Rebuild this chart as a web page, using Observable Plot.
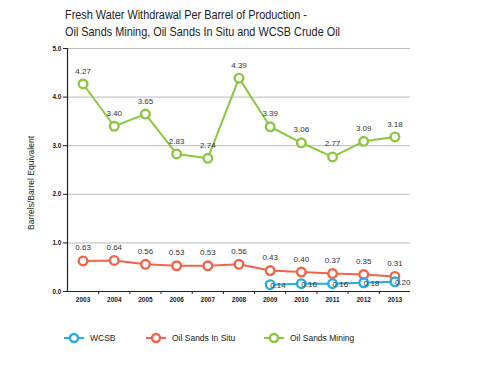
<!DOCTYPE html>
<html><head><meta charset="utf-8">
<script src="https://cdn.jsdelivr.net/npm/d3@7"></script>
<script src="https://cdn.jsdelivr.net/npm/@observablehq/plot@0.6"></script>
<style>
body{margin:0;background:#fff;width:486px;height:389px;overflow:hidden;font-family:"Liberation Sans",Arial,sans-serif;}
#title{position:absolute;left:65px;top:7px;font-family:"Liberation Sans",Arial,sans-serif;font-size:12.5px;line-height:17px;color:#222;transform:scaleX(0.87);transform-origin:0 0;white-space:nowrap;}
#chart{position:absolute;left:0;top:40px;}
#legend{position:absolute;top:330px;left:0;width:486px;height:16px;font-size:8.5px;color:#222;}
.item{position:absolute;top:0;display:flex;align-items:center;height:16px;}
.item svg{margin-right:6px;}
</style></head><body>
<div id="title">Fresh Water Withdrawal Per Barrel of Production -<br>Oil Sands Mining, Oil Sands In Situ and WCSB Crude Oil</div>
<div id="chart"></div>
<div id="legend"></div>
<script>
const years = [2003,2004,2005,2006,2007,2008,2009,2010,2011,2012,2013];
const mining = [4.27,3.40,3.65,2.83,2.74,4.39,3.39,3.06,2.77,3.09,3.18];
const inSitu = [0.63,0.64,0.56,0.53,0.53,0.56,0.43,0.40,0.37,0.35,0.31];
const wcsbYears = [2009,2010,2011,2012,2013];
const wcsb = [0.14,0.16,0.16,0.18,0.20];
const seriesNames = ["WCSB","Oil Sands In Situ","Oil Sands Mining"];
const colors = ["#27aae1","#f0644a","#8dc63f"];
const yTicks = [0,1,2,3,4,5];

const dMining = years.map((y,i)=>({year:y,v:mining[i]}));
const dSitu = years.map((y,i)=>({year:y,v:inSitu[i]}));
const dWcsb = wcsbYears.map((y,i)=>({year:y,v:wcsb[i]}));
const bounds = years.slice(0,-1).map(y=>y+0.5);
const fmt = d3.format(".2f");

function series(data,color){
  return [
    Plot.line(data,{x:"year",y:"v",stroke:color,strokeWidth:2}),
    Plot.dot(data,{x:"year",y:"v",r:4.3,stroke:color,strokeWidth:2.4,fill:"white"})
  ];
}

const chart = Plot.plot({
  width:486,height:270,
  marginLeft:67,marginRight:76,marginTop:8,marginBottom:19,
  style:{fontFamily:"'Liberation Sans',Arial,sans-serif",background:"white"},
  x:{type:"linear",domain:[2002.5,2013.5]},
  y:{domain:[0,5]},
  marks:[
    Plot.gridY(yTicks.filter(t=>t>0),{stroke:"#bbb",strokeOpacity:1,strokeWidth:1}),
    Plot.axisY(yTicks,{tickFormat:d3.format(".1f"),tickSize:4,stroke:"#222",fontSize:6.5,fontWeight:"bold",fill:"#222",label:null,tickPadding:2}),
    Plot.axisX(years,{tickSize:0,tickFormat:d=>String(d),fontSize:6.5,fontWeight:"bold",fill:"#222",label:null,tickPadding:6}),
    Plot.axisX(bounds,{tickSize:3,tickFormat:()=>"",stroke:"#222",label:null}),
    Plot.ruleX([2002.5],{stroke:"#222",strokeWidth:1.2}),
    Plot.ruleY([0],{stroke:"#222",strokeWidth:1.2}),
    ...series(dMining,colors[2]),
    ...series(dSitu,colors[1]),
    ...series(dWcsb,colors[0]),
    Plot.text(dMining,{x:"year",y:"v",text:d=>fmt(d.v),dy:-13,fontSize:8,fill:"#333"}),
    Plot.text(dSitu,{x:"year",y:"v",text:d=>fmt(d.v),dy:-13,fontSize:8,fill:"#333"}),
    Plot.text(dWcsb,{x:"year",y:"v",text:d=>fmt(d.v),dx:0,dy:1,textAnchor:"start",fontSize:8,fill:"#333"})
  ]
});
document.getElementById("chart").appendChild(chart);

// y axis title
const svg = d3.select(chart);
svg.append("text").attr("transform","translate(34,143) rotate(-90)")
  .attr("text-anchor","middle").attr("font-size","8.5px").attr("fill","#222")
  .attr("font-family","'Liberation Sans',Arial,sans-serif")
  .text("Barrels/Barrel Equivalent");

const legendX = [64,146,264];
const legend = document.getElementById("legend");
seriesNames.forEach((n,i)=>{
  const it = document.createElement("div");
  it.className="item"; it.style.left=legendX[i]+"px";
  it.innerHTML=`<svg width="20" height="12"><line x1="0" y1="6" x2="20" y2="6" stroke="${colors[i]}" stroke-width="2"/><circle cx="10" cy="6" r="4" fill="white" stroke="${colors[i]}" stroke-width="2.4"/></svg><span>${n}</span>`;
  legend.appendChild(it);
});
</script>
</body></html>
